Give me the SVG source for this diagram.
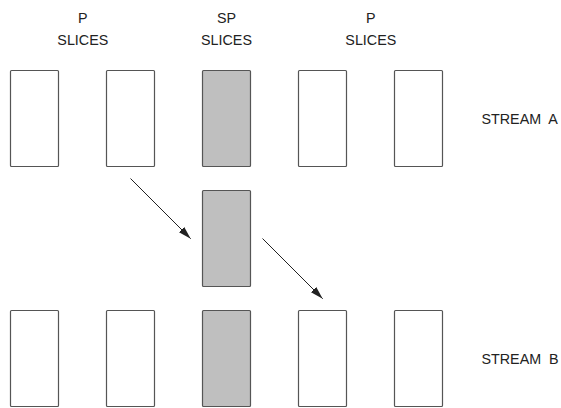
<svg xmlns="http://www.w3.org/2000/svg" width="561" height="408" viewBox="0 0 561 408">
<style>
.box{fill:#fff;stroke:#555;stroke-width:1.2}
.sp{fill:#bfbfbf;stroke:#555;stroke-width:1.2}
.lbl{font-family:"Liberation Sans",Arial,sans-serif;font-size:14.3px;fill:#222;text-anchor:middle}
.st{font-family:"Liberation Sans",Arial,sans-serif;font-size:14.3px;fill:#222;white-space:pre}
.conn{stroke:#222;stroke-width:1;fill:none;marker-end:url(#ah)}
</style>
<defs>
<marker id="ah" viewBox="0 0 13 7.5" refX="13" refY="3.75" markerWidth="13" markerHeight="7.5" markerUnits="userSpaceOnUse" orient="auto">
<path d="M0,0 L13,3.75 L0,7.5 z" fill="#222"/>
</marker>
</defs>
<g id="label-p1"><text class="lbl" x="82.8" y="22.8">P</text><text class="lbl" x="82.8" y="44.5">SLICES</text></g>
<g id="label-sp"><text class="lbl" x="226.5" y="22.8">SP</text><text class="lbl" x="226.5" y="44.5">SLICES</text></g>
<g id="label-p2"><text class="lbl" x="370.8" y="22.8">P</text><text class="lbl" x="370.8" y="44.5">SLICES</text></g>
<g id="a1"><rect class="box" x="10.5" y="70.5" width="48" height="96" rx="1"/></g>
<g id="a2"><rect class="box" x="106.5" y="70.5" width="48" height="96" rx="1"/></g>
<g id="a3"><rect class="sp" x="202.5" y="70.5" width="48" height="96" rx="1"/></g>
<g id="a4"><rect class="box" x="298.5" y="70.5" width="48" height="96" rx="1"/></g>
<g id="a5"><rect class="box" x="394.5" y="70.5" width="48" height="96" rx="1"/></g>
<g id="switch"><rect class="sp" x="202.5" y="190.5" width="48" height="96" rx="1"/></g>
<g id="b1"><rect class="box" x="10.5" y="310.5" width="48" height="96" rx="1"/></g>
<g id="b2"><rect class="box" x="106.5" y="310.5" width="48" height="96" rx="1"/></g>
<g id="b3"><rect class="sp" x="202.5" y="310.5" width="48" height="96" rx="1"/></g>
<g id="b4"><rect class="box" x="298.5" y="310.5" width="48" height="96" rx="1"/></g>
<g id="b5"><rect class="box" x="394.5" y="310.5" width="48" height="96" rx="1"/></g>
<g id="stream-a"><text class="st" x="481.5" y="124">STREAM  A</text></g>
<g id="stream-b"><text class="st" x="481.5" y="364">STREAM  B</text></g>
<g id="connectors">
<line class="conn" x1="130.5" y1="178.5" x2="190.7" y2="238.7"/>
<line class="conn" x1="262.5" y1="238.5" x2="322.7" y2="298.7"/>
</g>
</svg>
